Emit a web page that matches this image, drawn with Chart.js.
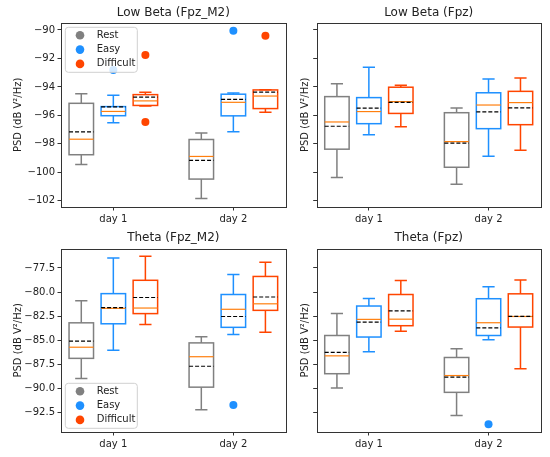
<!DOCTYPE html>
<html><head><meta charset="utf-8">
<script src="https://cdn.jsdelivr.net/npm/chart.js@4/dist/chart.umd.min.js"></script>
<style>
html,body{margin:0;padding:0;background:#fff;width:550px;height:457px;overflow:hidden}
.cell{position:absolute}
canvas{display:block}
</style></head><body>
<div class="cell" style="left:0px;top:0px"><canvas id="c0" width="290" height="228"></canvas></div>
<div class="cell" style="left:290px;top:0px"><canvas id="c1" width="260" height="228"></canvas></div>
<div class="cell" style="left:0px;top:228px"><canvas id="c2" width="290" height="229"></canvas></div>
<div class="cell" style="left:290px;top:228px"><canvas id="c3" width="260" height="229"></canvas></div>
<script>
// ---------- data ----------
const categories = ['day 1', 'day 2'];
const dayPositions = [1, 2];
const conditions = ['Rest', 'Easy', 'Difficult'];
const conditionColors = ['#808080', '#1E90FF', '#FF4500'];
const yLabel = 'PSD (dB V\u00B2/Hz)';

const yTicksLowBeta = [-102, -100, -98, -96, -94, -92, -90];
const yTicksTheta = [-92.5, -90, -87.5, -85, -82.5, -80, -77.5];

// box stats per day: [low whisker, Q1, median, Q3, high whisker]
// Low Beta (Fpz_M2)
const lbM2Rest = [[-99.45, -98.76, -97.67, -95.15, -94.48], [-101.83, -100.47, -98.88, -97.69, -97.24]];
const lbM2Easy = [[-96.52, -96.02, -95.72, -95.38, -94.59], [-97.15, -96.03, -95.08, -94.51, -94.42]];
const lbM2Diff = [[-95.34, -95.30, -94.98, -94.54, -94.37], [-95.78, -95.52, -94.64, -94.21, -94.20]];
const lbM2Means = [[-97.15, -99.15], [-95.40, -94.88], [-94.71, -94.37]];
const lbM2Outliers = [[1, 0, -92.81], [1, 1, -90.05], [2, 0, -91.75], [2, 0, -96.47], [2, 1, -90.41]];

// Low Beta (Fpz)
const lbFpzRest = [[-100.36, -98.37, -96.46, -94.68, -93.78], [-100.84, -99.64, -97.84, -95.81, -95.48]];
const lbFpzEasy = [[-97.36, -96.58, -95.73, -94.75, -92.61], [-98.87, -96.93, -95.27, -94.41, -93.45]];
const lbFpzDiff = [[-96.80, -95.86, -95.03, -94.02, -93.89], [-98.44, -96.65, -95.10, -94.31, -93.37]];
const lbFpzMeans = [[-96.76, -97.94], [-95.49, -95.75], [-95.08, -95.47]];
const lbFpzOutliers = [];

// Theta (Fpz_M2)
const thM2Rest = [[-89.01, -86.91, -85.75, -83.21, -80.92], [-92.26, -89.91, -86.74, -85.30, -84.65]];
const thM2Easy = [[-86.07, -83.31, -81.70, -80.17, -76.46], [-84.42, -83.68, -81.80, -80.26, -78.18]];
const thM2Diff = [[-83.38, -82.25, -81.67, -78.78, -76.28], [-84.18, -81.91, -81.23, -78.38, -76.90]];
const thM2Means = [[-85.12, -87.73], [-81.63, -82.55], [-80.57, -80.52]];
const thM2Outliers = [[1, 1, -91.78]];

// Theta (Fpz)
const thFpzRest = [[-90.00, -88.51, -86.65, -84.53, -82.24], [-92.85, -90.45, -88.70, -86.82, -85.92]];
const thFpzEasy = [[-86.22, -84.69, -82.85, -81.46, -80.68], [-84.97, -84.53, -83.20, -80.70, -79.44]];
const thFpzDiff = [[-84.10, -83.51, -82.83, -80.26, -78.80], [-88.00, -83.65, -82.55, -80.19, -78.75]];
const thFpzMeans = [[-86.28, -88.87], [-83.14, -83.73], [-81.96, -82.53]];
const thFpzOutliers = [[1, 1, -93.78]];

// ---------- layout ----------
const X_MIN = 0.564, X_MAX = 2.436;
const BOX_OFFSET = 0.267, BOX_WIDTH = 0.204, CAP_WIDTH = 0.102;

const panels = [
  {id: 'c0', title: 'Low Beta (Fpz_M2)', stats: [lbM2Rest, lbM2Easy, lbM2Diff], means: lbM2Means, outliers: lbM2Outliers,
   yTicks: yTicksLowBeta, yMin: -102.43, yMax: -89.49, dec: 0, showY: true, legend: 'top',
   yW: 61, padRight: 4.3, xH: 21, tpt: 6.1, tpb: 2.2, ylabPad: 12.3},
  {id: 'c1', title: 'Low Beta (Fpz)', stats: [lbFpzRest, lbFpzEasy, lbFpzDiff], means: lbFpzMeans, outliers: lbFpzOutliers,
   yTicks: yTicksLowBeta, yMin: -102.43, yMax: -89.49, dec: 0, showY: false, legend: null,
   yW: 26.7, padRight: 9.3, xH: 21, tpt: 6.1, tpb: 2.2, ylabPad: 9.3},
  {id: 'c2', title: 'Theta (Fpz_M2)', stats: [thM2Rest, thM2Easy, thM2Diff], means: thM2Means, outliers: thM2Outliers,
   yTicks: yTicksTheta, yMin: -94.58, yMax: -75.49, dec: 1, showY: true, legend: 'bottom',
   yW: 61, padRight: 4.3, xH: 25, tpt: 2.8, tpb: 3.5, ylabPad: 12.3},
  {id: 'c3', title: 'Theta (Fpz)', stats: [thFpzRest, thFpzEasy, thFpzDiff], means: thFpzMeans, outliers: thFpzOutliers,
   yTicks: yTicksTheta, yMin: -94.58, yMax: -75.49, dec: 1, showY: false, legend: null,
   yW: 26.7, padRight: 9.3, xH: 25, tpt: 2.8, tpb: 3.5, ylabPad: 9.3}
];

Chart.defaults.font.family = "'DejaVu Sans', sans-serif";
Chart.defaults.color = '#222';

function boxPos(ci, di) { return dayPositions[di] + (ci - 1) * BOX_OFFSET; }

function makePlugin(panel) {
  return {
    id: 'boxplotPanel',
    beforeDatasetsDraw(chart) {
      const ctx = chart.ctx, xs = chart.scales.x, ys = chart.scales.y;
      ctx.save();
      panel.stats.forEach((cond, ci) => {
        cond.forEach((s, di) => {
          const c = boxPos(ci, di);
          const xc = xs.getPixelForValue(c);
          const xl = xs.getPixelForValue(c - BOX_WIDTH / 2), xr = xs.getPixelForValue(c + BOX_WIDTH / 2);
          const cl = xs.getPixelForValue(c - CAP_WIDTH / 2), cr = xs.getPixelForValue(c + CAP_WIDTH / 2);
          const [lo, q1, med, q3, hi] = s.map(v => ys.getPixelForValue(v));
          ctx.strokeStyle = conditionColors[ci];
          ctx.lineWidth = 1.5;
          ctx.setLineDash([]);
          // whiskers
          ctx.beginPath();
          ctx.moveTo(xc, q1); ctx.lineTo(xc, lo);
          ctx.moveTo(xc, q3); ctx.lineTo(xc, hi);
          ctx.moveTo(cl, lo); ctx.lineTo(cr, lo);
          ctx.moveTo(cl, hi); ctx.lineTo(cr, hi);
          ctx.stroke();
          // box
          ctx.strokeRect(xl, q3, xr - xl, q1 - q3);
          // median
          ctx.strokeStyle = '#ff7f0e';
          ctx.lineWidth = 1.2;
          ctx.beginPath(); ctx.moveTo(xl, med); ctx.lineTo(xr, med); ctx.stroke();
          // mean
          const m = ys.getPixelForValue(panel.means[ci][di]);
          ctx.strokeStyle = '#000';
          ctx.lineWidth = 1.2;
          ctx.setLineDash([4, 2]);
          ctx.beginPath(); ctx.moveTo(xl, m); ctx.lineTo(xr, m); ctx.stroke();
          ctx.setLineDash([]);
        });
      });
      ctx.restore();
    },
    afterDatasetsDraw(chart) {
      const ctx = chart.ctx, a = chart.chartArea;
      ctx.save();
      if (panel.legend) {
        const w = 72, h = 45, lx = a.left + 4.3;
        const ly = panel.legend === 'top' ? a.top + 4.6 : a.bottom - 3.7 - h;
        const r = 3;
        ctx.beginPath();
        ctx.moveTo(lx + r, ly); ctx.lineTo(lx + w - r, ly); ctx.arcTo(lx + w, ly, lx + w, ly + r, r);
        ctx.lineTo(lx + w, ly + h - r); ctx.arcTo(lx + w, ly + h, lx + w - r, ly + h, r);
        ctx.lineTo(lx + r, ly + h); ctx.arcTo(lx, ly + h, lx, ly + h - r, r);
        ctx.lineTo(lx, ly + r); ctx.arcTo(lx, ly, lx + r, ly, r);
        ctx.closePath();
        ctx.fillStyle = 'rgba(255,255,255,0.8)';
        ctx.fill();
        ctx.strokeStyle = '#d0d0d0';
        ctx.lineWidth = 1;
        ctx.stroke();
        ctx.font = "10px 'DejaVu Sans'";
        ctx.textBaseline = 'middle';
        ctx.textAlign = 'left';
        conditions.forEach((name, i) => {
          const yy = ly + 8 + i * 14.3;
          ctx.fillStyle = conditionColors[i];
          ctx.beginPath(); ctx.arc(lx + 14.7, yy, 4.3, 0, Math.PI * 2); ctx.fill();
          ctx.fillStyle = '#222';
          ctx.fillText(name, lx + 31.4, yy);
        });
      }
      // frame
      ctx.strokeStyle = '#333';
      ctx.lineWidth = 1;
      ctx.strokeRect(Math.round(a.left) + 0.5, Math.round(a.top) + 0.5, Math.round(a.right) - Math.round(a.left), Math.round(a.bottom) - Math.round(a.top));
      ctx.restore();
    }
  };
}

function fmt(v, dec) { return v.toFixed(dec).replace('-', '\u2212'); }

panels.forEach(panel => {
  const datasets = conditions.map((name, ci) => ({
    label: name,
    data: panel.outliers.filter(o => o[0] === ci).map(o => ({x: boxPos(o[0], o[1]), y: o[2]})),
    backgroundColor: conditionColors[ci],
    borderWidth: 0,
    pointRadius: 4,
    pointHoverRadius: 4
  }));
  new Chart(document.getElementById(panel.id), {
    type: 'scatter',
    data: {datasets},
    options: {
      responsive: false, animation: false, devicePixelRatio: 1,
      layout: {padding: {left: 0, right: panel.padRight, top: 0, bottom: 0}},
      plugins: {
        legend: {display: false},
        tooltip: {enabled: false},
        title: {display: true, text: panel.title, fullSize: false, color: '#222',
                font: {size: 12, weight: 'normal'}, padding: {top: panel.tpt, bottom: panel.tpb}}
      },
      scales: {
        x: {
          type: 'linear', min: X_MIN, max: X_MAX,
          afterBuildTicks: s => { s.ticks = dayPositions.map(v => ({value: v})); },
          afterFit: s => { s.height = panel.xH; },
          ticks: {callback: (v, i) => categories[i], font: {size: 10}, color: '#222', padding: 3, maxRotation: 0, autoSkip: false},
          grid: {drawOnChartArea: false, drawTicks: true, tickLength: 3.5, color: '#333'},
          border: {display: false}
        },
        y: {
          type: 'linear', min: panel.yMin, max: panel.yMax,
          afterBuildTicks: s => { s.ticks = panel.yTicks.map(v => ({value: v})); },
          afterFit: s => { s.width = panel.yW; },
          ticks: {callback: v => panel.showY ? fmt(v, panel.dec) : '', font: {size: 10}, color: '#222', padding: 2.5, autoSkip: false},
          grid: {drawOnChartArea: false, drawTicks: true, tickLength: 3.5, color: '#333'},
          border: {display: false},
          title: {display: true, text: yLabel, font: {size: 10}, color: '#222', padding: {top: panel.ylabPad, bottom: 0}}
        }
      }
    },
    plugins: [makePlugin(panel)]
  });
});
</script>
</body></html>
